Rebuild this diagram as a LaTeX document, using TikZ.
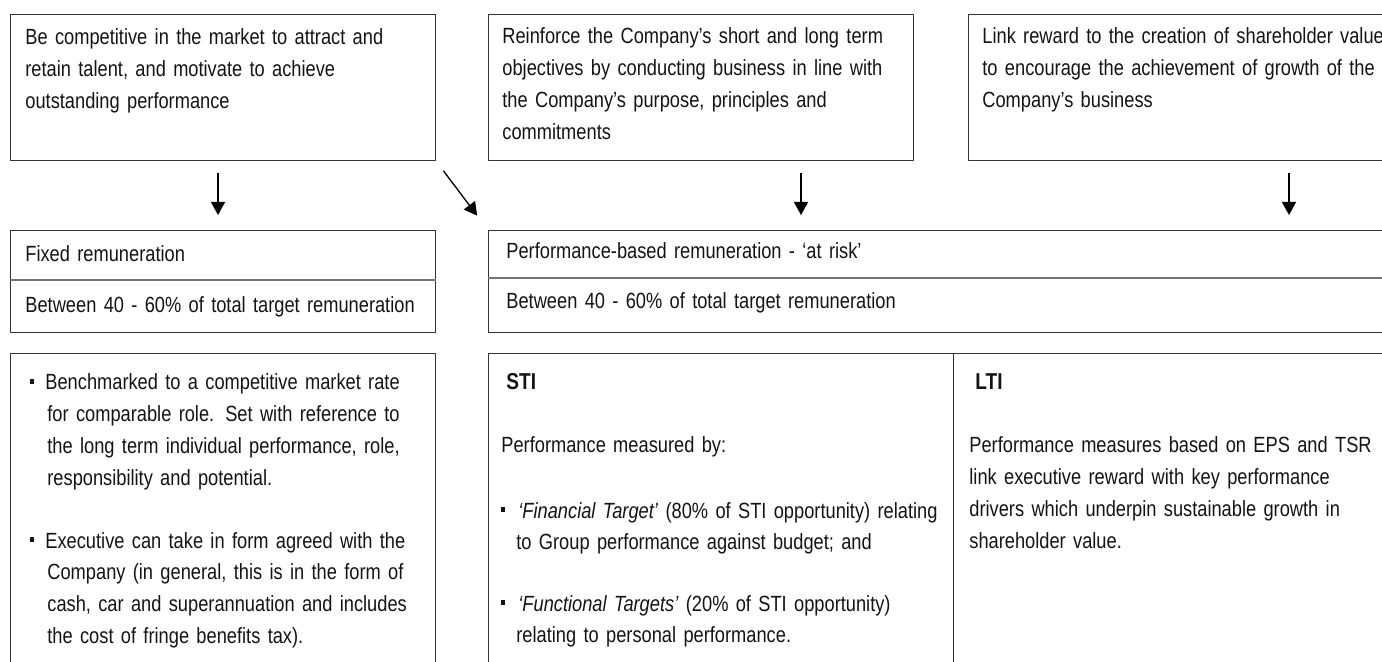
\documentclass[tikz,border=0pt]{standalone}
\usepackage{fontspec}
\setmainfont{Liberation Sans}[FakeStretch=0.83]
\usetikzlibrary{arrows.meta}
\newcommand{\sqbul}[1]{\llap{\rule[3.2pt]{2.3pt}{2.3pt}\hspace{#1}}}
\begin{document}
\begin{tikzpicture}[x=0.5pt,y=-0.5pt,>={Triangle[width=7pt,length=6.5pt]},line join=round,
		font=\fontsize{11}{15.85}\selectfont,
		box/.style={draw=black!80,line width=0.6pt,anchor=north west,inner sep=0pt},
		txt/.style={anchor=base west,inner sep=0pt,align=left,text width=240pt,text=black!92},
		head/.style={txt,font=\fontsize{11.5}{15.85}\selectfont\bfseries},
		arr/.style={->,line width=0.65pt,shorten <=6pt,shorten >=7.5pt},
		divider/.style={draw=black!55,line width=0.6pt}]
	\useasboundingbox (0,0) rectangle (1382,662);
	\clip (0,0) rectangle (1382,662);
	\node[box,minimum width=212.5pt,minimum height=73pt] (goal1) at (10,14) {};
	\node[box,minimum width=212.5pt,minimum height=73pt] (goal2) at (488,14) {};
	\node[box,minimum width=212.5pt,minimum height=73pt] (goal3) at (968,14) {};
	\node[box,minimum width=212.5pt,minimum height=51pt] (fixed) at (10,230) {};
	\node[box,minimum width=456pt,minimum height=51pt] (atrisk) at (488,230) {};
	\node[box,minimum width=212.5pt,minimum height=173.5pt] (fixedinfo) at (10,353) {};
	\node[box,minimum width=232.5pt,minimum height=173.5pt] (sti) at (488,353) {};
	\node[box,minimum width=223.5pt,minimum height=173.5pt] (lti) at (953,353) {};
	\draw[divider] ([yshift=-25pt]fixed.north west) -- ([yshift=-25pt]fixed.north east);
	\draw[divider] ([yshift=-24pt]atrisk.north west) -- ([yshift=-24pt]atrisk.north east);
	\node[txt] (goal1txt) at (25,45) {Be competitive in the market to attract and\\retain talent, and motivate to achieve\\outstanding performance};
	\node[txt] (goal2txt) at (502,44) {Reinforce the Company’s short and long term\\objectives by conducting business in line with\\the Company’s purpose, principles and\\commitments};
	\node[txt] (goal3txt) at (982,44) {Link reward to the creation of shareholder value\\to encourage the achievement of growth of the\\Company’s business};
	\node[txt] (fixedname) at (25,262) {Fixed remuneration};
	\node[txt] (fixedshare) at (25,313) {Between 40 - 60\% of total target remuneration};
	\node[txt] (atriskname) at (506,259) {Performance-based remuneration - ‘at risk’};
	\node[txt] (atriskshare) at (506,309) {Between 40 - 60\% of total target remuneration};
	\node[txt] (fixedpt1) at (47,390) {\hspace*{-1pt}\sqbul{5.5pt}Benchmarked to a competitive market rate\\for comparable role. Set with reference to\\the long term individual performance, role,\\responsibility and potential.};
	\node[txt] (fixedpt2) at (47,548) {\hspace*{-1pt}\sqbul{5.5pt}Executive can take in form agreed with the\\Company (in general, this is in the form of\\cash, car and superannuation and includes\\the cost of fringe benefits tax).};
	\node[head] (stihead) at (506,390) {STI};
	\node[txt] (stiintro) at (501,453) {Performance measured by:};
	\node[txt] (stipt1) at (516,518) {\hspace*{1pt}\sqbul{6.5pt}\textit{‘Financial Target’} (80\% of STI opportunity) relating\\to Group performance against budget; and};
	\node[txt] (stipt2) at (516,611) {\hspace*{1pt}\sqbul{6.5pt}\textit{‘Functional Targets’} (20\% of STI opportunity)\\relating to personal performance.};
	\node[head] (ltihead) at (975,390) {LTI};
	\node[txt] (ltibody) at (969,453) {Performance measures based on EPS and TSR\\link executive reward with key performance\\drivers which underpin sustainable growth in\\shareholder value.};
	\coordinate (col1) at (218,0);
	\coordinate (col2) at (801,0);
	\coordinate (col3) at (1289,0);
	\draw[arr] (goal1.south -| col1) -- (fixed.north -| col1);
	\draw[arr] (goal2.south -| col2) -- (atrisk.north -| col2);
	\draw[arr] (goal3.south -| col3) -- (atrisk.north -| col3);
	\draw[arr,shorten >=9pt] (goal1.south east) -- (atrisk.north west);
\end{tikzpicture}
\end{document}
